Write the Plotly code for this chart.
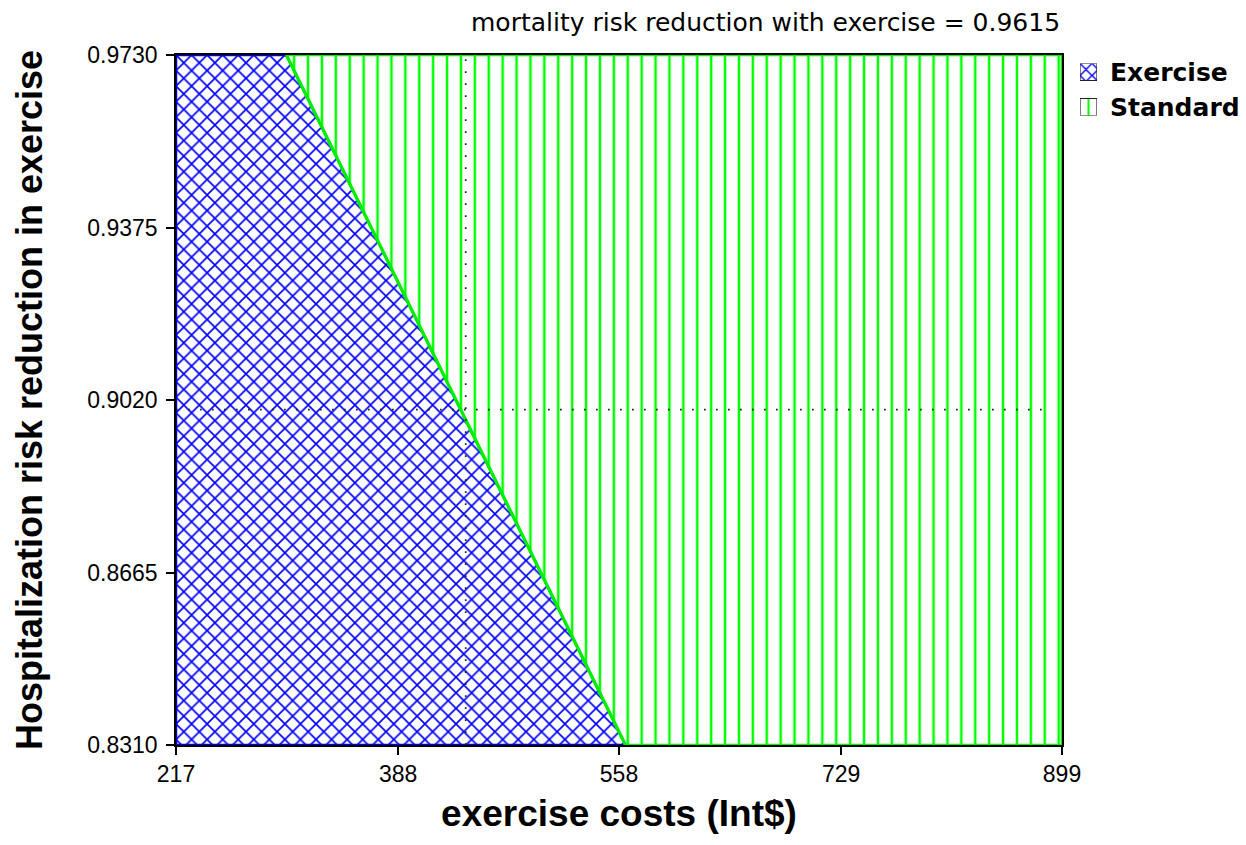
import plotly.graph_objects as go

# Axis ranges of the two-way sensitivity analysis
cost_bounds = [217, 899]          # exercise costs (Int$)
hosp_bounds = [0.831, 0.973]      # hospitalization risk reduction in exercise

# Threshold where the optimal strategy switches (cost at top / bottom of range)
threshold_cost = [302, 563]
threshold_hosp = [0.973, 0.831]

# Base-case point marked by the dotted crosshair
base_cost = 440
base_hosp = 0.900

x_ticks = [217, 388, 558, 729, 899]
y_ticks = [0.8310, 0.8665, 0.9020, 0.9375, 0.9730]

strategies = ["Exercise", "Standard"]
mortality_reduction = 0.9615

FONT = "Liberation Sans, Arial, sans-serif"
WIDE = "DejaVu Sans, Verdana, sans-serif"

BLUE = "#0000FF"
GREEN = "#00FF00"

W, H = 1246, 845
# plot area in pixels
PX0, PX1, PY0, PY1 = 176, 1062, 55, 745

ex_pattern = dict(shape="x", size=11, solidity=0.28, fgcolor=BLUE, bgcolor="white")
st_pattern = dict(shape="|", size=13.9, solidity=0.18, fgcolor=GREEN, bgcolor="white")

fig = go.Figure()

# Region where Exercise is preferred
ex_x = [cost_bounds[0], cost_bounds[0], threshold_cost[0], threshold_cost[1], cost_bounds[0]]
ex_y = [hosp_bounds[0], hosp_bounds[1], threshold_hosp[0], threshold_hosp[1], hosp_bounds[0]]
fig.add_trace(go.Scatter(
    x=ex_x, y=ex_y, name=strategies[0], mode="lines", fill="toself",
    line=dict(color="#0000CC", width=2.5), fillcolor="white",
    fillpattern=ex_pattern, showlegend=False, hoverinfo="skip",
))

# Region where Standard is preferred
st_x = [threshold_cost[0], cost_bounds[1], cost_bounds[1], threshold_cost[1], threshold_cost[0]]
st_y = [threshold_hosp[0], hosp_bounds[1], hosp_bounds[0], threshold_hosp[1], threshold_hosp[0]]
fig.add_trace(go.Scatter(
    x=st_x, y=st_y, name=strategies[1], mode="lines", fill="toself",
    line=dict(color="#00EE00", width=2.5), fillcolor="white",
    fillpattern=st_pattern, showlegend=False, hoverinfo="skip",
))

# Threshold boundary
fig.add_trace(go.Scatter(
    x=threshold_cost, y=threshold_hosp, mode="lines", showlegend=False,
    line=dict(color="#00EE00", width=3.2), hoverinfo="skip",
))

# Dotted crosshair at the base case
dot = dict(color="#222222", width=1.7, dash="1.7px,10.3px")
fig.add_trace(go.Scatter(
    x=[base_cost, base_cost], y=hosp_bounds, mode="lines", showlegend=False,
    line=dot, hoverinfo="skip",
))
fig.add_trace(go.Scatter(
    x=[cost_bounds[0], cost_bounds[1] - 8], y=[base_hosp, base_hosp], mode="lines",
    showlegend=False, line=dot, hoverinfo="skip",
))

# Key: small patterned boxes on their own tiny axes, labels as annotations
KEY_X0, KEY_X1 = 1080, 1097
KEY_ROWS = [72, 107]          # centre of each key row, px from top
BOX = 17
key_top, key_bot = KEY_ROWS[0] - BOX / 2, KEY_ROWS[-1] + BOX / 2
for name, pat, row in zip(strategies, [ex_pattern, st_pattern], KEY_ROWS):
    key_pat = dict(pat)
    key_pat["size"] = 8.5 if pat["shape"] == "x" else BOX
    key_pat["solidity"] = 0.3 if pat["shape"] == "x" else 0.12
    b0 = key_bot - (row + BOX / 2)
    b1 = key_bot - (row - BOX / 2)
    fig.add_trace(go.Scatter(
        x=[0, 0, 1, 1, 0], y=[b0, b1, b1, b0, b0], xaxis="x2", yaxis="y2",
        mode="lines", fill="toself", fillcolor="white", fillpattern=key_pat,
        line=dict(color="#222222", width=1.2), showlegend=False, hoverinfo="skip",
    ))
    fig.add_annotation(
        text=f"<b>{name}</b>", xref="paper", yref="paper",
        x=1108 / W, y=1 - row / H, xanchor="left", yanchor="middle", showarrow=False,
        font=dict(family=WIDE, size=25, color="black"),
    )

# Caption above the plot
fig.add_annotation(
    text=f"mortality risk reduction with exercise = {mortality_reduction}",
    xref="paper", yref="paper", x=PX1 / W, y=1 - 22 / H,
    xanchor="right", yanchor="middle", showarrow=False,
    font=dict(family=WIDE, size=25, color="black"),
)

fig.update_layout(
    width=W, height=H,
    template="none",
    margin=dict(l=0, r=0, t=0, b=0),
    paper_bgcolor="white", plot_bgcolor="white",
    font=dict(family=FONT, color="black"),
    showlegend=False,
    xaxis=dict(
        domain=[PX0 / W, PX1 / W], automargin=False, anchor="y",
        range=cost_bounds, tickvals=x_ticks, ticktext=[str(v) for v in x_ticks],
        ticks="outside", ticklen=8, tickcolor="black", tickwidth=1.5,
        showline=True, linecolor="black", linewidth=1.5, mirror=True,
        showgrid=False, zeroline=False,
        tickfont=dict(family=FONT, size=23),
        title=dict(text="exercise costs (Int$)", standoff=14,
                   font=dict(family=FONT, size=37, weight="bold")),
    ),
    yaxis=dict(
        domain=[1 - PY1 / H, 1 - PY0 / H], automargin=False, anchor="x",
        range=hosp_bounds, tickvals=y_ticks, ticktext=[f"{v:.4f}" for v in y_ticks],
        ticks="outside", ticklen=8, tickcolor="black", tickwidth=1.5,
        showline=True, linecolor="black", linewidth=1.5, mirror=True,
        showgrid=False, zeroline=False, ticklabelstandoff=4,
        tickfont=dict(family=FONT, size=23),
        title=dict(text="Hospitalization risk reduction in exercise", standoff=34,
                   font=dict(family=FONT, size=36, weight="bold")),
    ),
    xaxis2=dict(domain=[KEY_X0 / W, KEY_X1 / W], range=[0, 1], visible=False,
                anchor="y2", fixedrange=True),
    yaxis2=dict(domain=[1 - key_bot / H, 1 - key_top / H], range=[0, key_bot - key_top],
                visible=False, anchor="x2", fixedrange=True),
)

fig.write_html("out.html")
